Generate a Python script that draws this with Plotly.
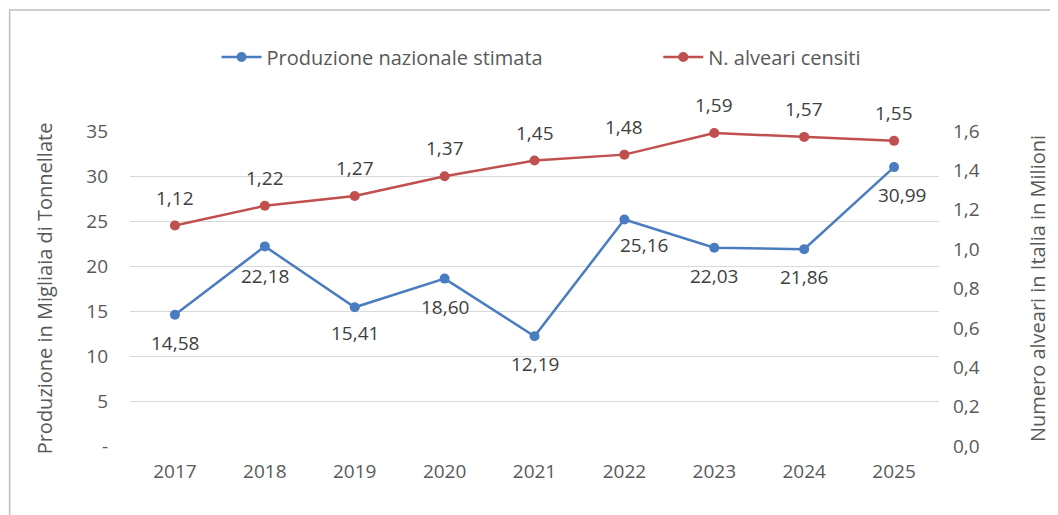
import plotly.graph_objects as go

years = ["2017", "2018", "2019", "2020", "2021", "2022", "2023", "2024", "2025"]
produzione = [14.58, 22.18, 15.41, 18.60, 12.19, 25.16, 22.03, 21.86, 30.99]
alveari = [1.12, 1.22, 1.27, 1.37, 1.45, 1.48, 1.59, 1.57, 1.55]
left_ticks = [0, 5, 10, 15, 20, 25, 30, 35]
left_ticktext = ["-", "5", "10", "15", "20", "25", "30", "35"]
right_ticks = [0, 0.2, 0.4, 0.6, 0.8, 1.0, 1.2, 1.4, 1.6]

BLUE = "#4a7dbf"
RED = "#c0504d"
FONT = "Open Sans"
TICK = "#595959"
LABEL = "#404040"

# label offsets (styling) for the blue series
blue_xshift = [0, 0, 0, 0, 0, 20, 0, 0, 8]
blue_yshift = [-28, -30, -26, -28, -28, -25, -28, -28, -28]


def fmt(v):
    return f"{v:.2f}".replace(".", ",")


fig = go.Figure()
fig.add_trace(go.Scatter(
    x=years, y=produzione, name="Produzione nazionale stimata",
    mode="lines+markers",
    line=dict(color=BLUE, width=2.5), marker=dict(color=BLUE, size=10),
    yaxis="y", cliponaxis=False, legend="legend",
))
fig.add_trace(go.Scatter(
    x=years, y=alveari, name="N. alveari censiti",
    mode="lines+markers",
    line=dict(color=RED, width=2.5), marker=dict(color=RED, size=10),
    yaxis="y2", cliponaxis=False, legend="legend2",
))

# category axis: annotations are placed by category index
for i, v in enumerate(produzione):
    fig.add_annotation(x=i, y=v, xref="x", yref="y", text=fmt(v), showarrow=False,
                       xshift=blue_xshift[i], yshift=blue_yshift[i],
                       font=dict(family=FONT, size=19, color=LABEL))
for i, v in enumerate(alveari):
    fig.add_annotation(x=i, y=v, xref="x", yref="y2", text=fmt(v), showarrow=False,
                       yshift=28, font=dict(family=FONT, size=19, color=LABEL))

fig.add_shape(type="rect", xref="paper", yref="paper",
              x0=-0.1488, x1=1.3, y0=-0.5, y1=1.384,
              line=dict(color="#bfbfbf", width=1.5), fillcolor="rgba(0,0,0,0)",
              layer="below")

legend_common = dict(orientation="h", yanchor="middle", y=1.235, xanchor="left",
                     font=dict(family=FONT, size=20, color=TICK),
                     itemwidth=40, bgcolor="rgba(0,0,0,0)")

fig.update_layout(
    width=1050, height=507,
    margin=dict(l=122, r=115, t=123, b=69),
    paper_bgcolor="white", plot_bgcolor="white",
    separators=",.",
    font=dict(family=FONT, size=19, color=TICK),
    showlegend=True,
    legend=dict(x=0.107, **legend_common),
    legend2=dict(x=0.653, **legend_common),
    xaxis=dict(type="category", range=[-0.5, len(years) - 0.5],
               showgrid=False, zeroline=False, showline=False,
               ticks="", ticklabelstandoff=12, tickfont=dict(size=19, color=TICK)),
    yaxis=dict(range=[0, 35], tickvals=left_ticks, ticktext=left_ticktext,
               showgrid=True, gridcolor="#d9d9d9", gridwidth=1, zeroline=False,
               ticks="", ticklabelstandoff=21, tickfont=dict(size=19, color=TICK),
               title=dict(text="Produzione in Migliaia di Tonnellate", standoff=28,
                          font=dict(size=20, color=TICK))),
    yaxis2=dict(range=[0, 1.6], tickvals=right_ticks, tickformat=".1f",
                overlaying="y", side="right", showgrid=False, zeroline=False,
                ticks="", ticklabelstandoff=13, tickfont=dict(size=19, color=TICK),
                title=dict(text="Numero alveari in Italia in Milioni", standoff=52,
                           font=dict(size=20, color=TICK))),
)

fig.write_html("out.html")
